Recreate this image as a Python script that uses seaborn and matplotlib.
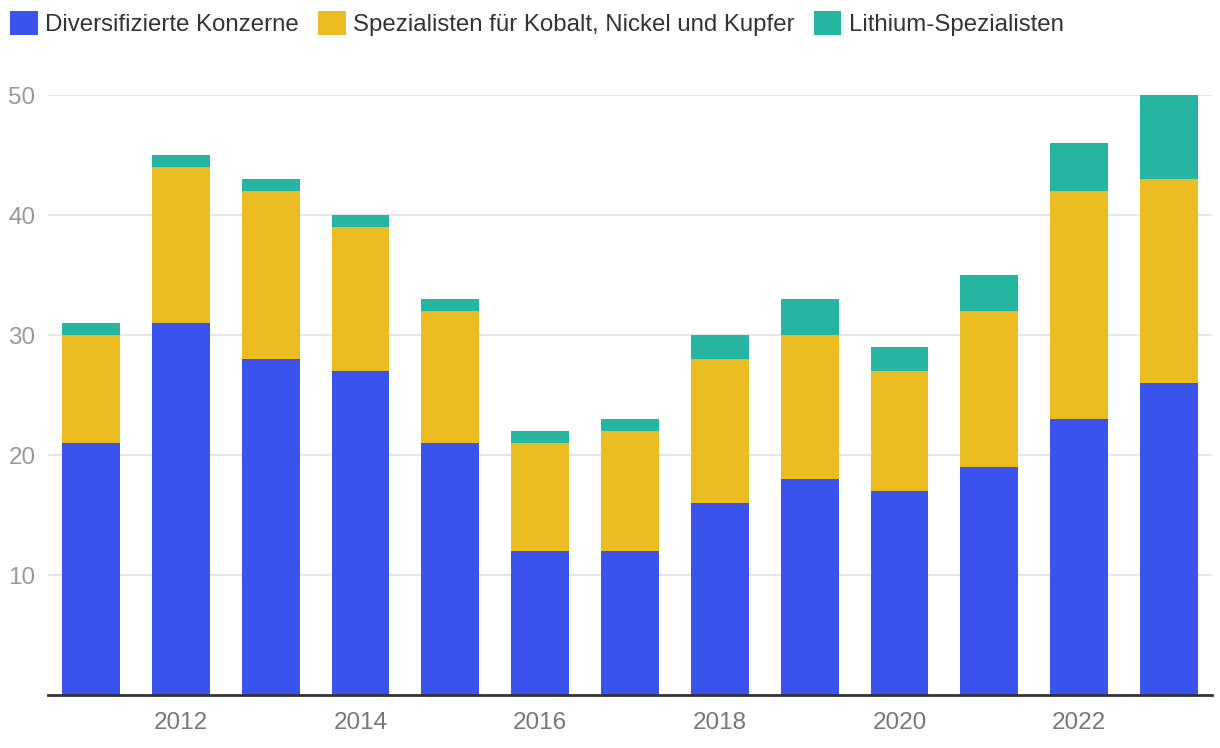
import matplotlib
matplotlib.use("Agg")
import matplotlib.pyplot as plt
from matplotlib.patches import Patch
import seaborn as sns
import numpy as np
import pandas as pd

years = [2011, 2012, 2013, 2014, 2015, 2016, 2017, 2018, 2019, 2020, 2021, 2022, 2023]
diversified = [21, 31, 28, 27, 21, 12, 12, 16, 18, 17, 19, 23, 26]
specialists = [9, 13, 14, 12, 11, 9, 10, 12, 12, 10, 13, 19, 17]
lithium = [1, 1, 1, 1, 1, 1, 1, 2, 3, 2, 3, 4, 7]
series_names = ["Diversifizierte Konzerne", "Spezialisten für Kobalt, Nickel und Kupfer", "Lithium-Spezialisten"]
colors = ["#3A53EC", "#EBBD22", "#25B5A0"]
y_ticks = [10, 20, 30, 40, 50]
x_tick_years = [2012, 2014, 2016, 2018, 2020, 2022]

sns.set_theme(style="white")
plt.rcParams["font.family"] = ["Liberation Sans", "DejaVu Sans"]

fig = plt.figure(figsize=(12.2, 7.48), dpi=100)
ax = fig.add_axes([48 / 1220, 53 / 748, (1212 - 48) / 1220, 600 / 748])

df = pd.DataFrame({"year": [str(y) for y in years],
                   "d": diversified, "s": specialists, "l": lithium})
bottom = np.zeros(len(years))
for col, c in zip(["d", "s", "l"], colors):
    sns.barplot(data=df, x="year", y=col, bottom=bottom, color=c, width=0.644,
                saturation=1, ax=ax, linewidth=0, zorder=3)
    bottom = bottom + df[col].to_numpy()

ax.set_xlim(-0.48, len(years) - 1 + 0.48)
ax.set_ylim(0, 50)
ax.set_yticks(y_ticks)
ax.set_yticklabels([str(v) for v in y_ticks])
ax.set_xticks([years.index(y) for y in x_tick_years])
ax.set_xticklabels([str(y) for y in x_tick_years])
ax.set_xlabel("")
ax.set_ylabel("")
ax.tick_params(axis="y", length=0, pad=9, labelsize=17.5, labelcolor="#999999")
ax.tick_params(axis="x", length=0, pad=12.5, labelsize=17.5, labelcolor="#777777")
ax.grid(axis="y", color="#e6e6e6", linewidth=1.5, zorder=0)
ax.grid(axis="x", visible=False)
for s in ["top", "right", "left"]:
    ax.spines[s].set_visible(False)
ax.spines["bottom"].set_color("#333333")
ax.spines["bottom"].set_linewidth(2)
ax.spines["bottom"].set_zorder(5)

handles = [Patch(facecolor=c, edgecolor="none") for c in colors]
fig.legend(handles, series_names, loc="upper left", bbox_to_anchor=(3 / 1220, 1 - 4 / 748),
           ncol=3, frameon=False, fontsize=17.3, handlelength=1.15, handleheight=1.15,
           handletextpad=0.3, columnspacing=0.8, borderaxespad=0, borderpad=0.3,
           labelcolor="#333333")

fig.savefig("out.png", dpi=100)
